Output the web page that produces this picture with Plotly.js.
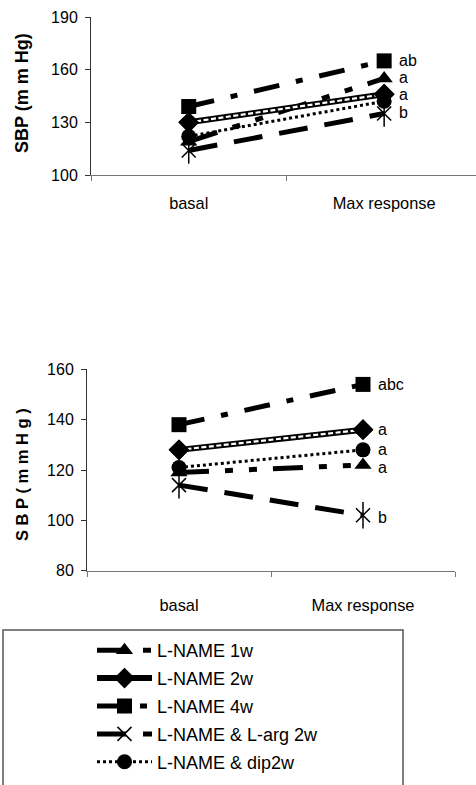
<!DOCTYPE html>
<html><head><meta charset="utf-8">
<script src="https://cdn.plot.ly/plotly-3.0.1.min.js"></script>
<style>html,body{margin:0;padding:0;background:#fff;}#chart{width:476px;height:785px;}</style>
</head><body><div id="chart"></div>
<script>
var categories = ['basal', 'Max response'];
var seriesNames = ['L-NAME 1w', 'L-NAME 2w', 'L-NAME 4w', 'L-NAME & L-arg 2w', 'L-NAME & dip2w'];
// top chart values
var top1w = [119, 155];
var top2w = [130, 146];
var top4w = [139, 165];
var topLarg = [114, 135];
var topDip = [122, 142];
// bottom chart values
var bot1w = [119, 122];
var bot2w = [128, 136];
var bot4w = [138, 154];
var botLarg = [114, 102];
var botDip = [121, 128];
// significance letters
var topLetters = ['ab', 'a', 'a', 'b'];
var topLetterY = [165, 155.5, 146, 135.5];
var botLetters = ['abc', 'a', 'a', 'a', 'b'];
var botLetterY = [154, 136, 128, 121, 101];
var topTicks = [100, 130, 160, 190];
var botTicks = [80, 100, 120, 140, 160];

var FONT = '"Liberation Sans", Arial, sans-serif';
var W = 476, H = 785;
function py(p){ return 1 - p / H; }
function px(p){ return p / W; }

var styles = [
  {dash: '30px,16px,8px,16px,8px,16px', width: 5, symbol: 'triangle-up', size: 15},
  {dash: 'solid', width: 6, symbol: 'diamond', size: 16},
  {dash: '26px,17px,7px,17px', width: 5, symbol: 'square', size: 15},
  {dash: '29px,17px', width: 5, symbol: 'x-thin-open', size: 14},
  {dash: '3px,3px', width: 3, symbol: 'circle', size: 15}
];

function addChart(traces, vals, xa, ya, showLegend) {
  vals.forEach(function(v, i){
    var s = styles[i];
    traces.push({
      type: 'scatter', mode: 'lines+markers', x: categories, y: v,
      name: seriesNames[i], xaxis: xa, yaxis: ya, showlegend: showLegend,
      legendgroup: 'g' + i,
      line: {color: '#000', width: s.width, dash: s.dash},
      marker: {symbol: s.symbol, size: s.size, color: '#000',
               line: {color: '#000', width: s.symbol.indexOf('open') >= 0 ? 1.5 : 0}},
      cliponaxis: false
    });
    if (i === 1) {
      traces.push({
        type: 'scatter', mode: 'lines', x: categories, y: v, xaxis: xa, yaxis: ya,
        showlegend: false, legendgroup: 'g' + i, hoverinfo: 'skip',
        line: {color: '#fff', width: 2.2, dash: '5px,2.5px'}
      });
      traces.push({
        type: 'scatter', mode: 'markers', x: categories, y: v, xaxis: xa, yaxis: ya,
        showlegend: false, legendgroup: 'g' + i, hoverinfo: 'skip',
        marker: {symbol: 'diamond', size: s.size, color: '#000'}, cliponaxis: false
      });
    }
    if (i === 3) {
      traces.push({
        type: 'scatter', mode: 'markers', x: categories, y: v, xaxis: xa, yaxis: ya,
        showlegend: false, legendgroup: 'g' + i, hoverinfo: 'skip',
        marker: {symbol: 'line-ns-open', size: 19, color: '#000', line: {color: '#000', width: 1.5}},
        cliponaxis: false
      });
    }
  });
}

var traces = [];
addChart(traces, [top1w, top2w, top4w, topLarg, topDip], 'x', 'y', false);
addChart(traces, [bot1w, bot2w, bot4w, botLarg, botDip], 'x2', 'y2', true);

var annotations = [];
topLetters.forEach(function(t, i){
  annotations.push({xref: 'x', yref: 'y', x: categories[1], y: topLetterY[i], text: t,
    showarrow: false, xanchor: 'left', yanchor: 'middle', xshift: 13,
    font: {family: FONT, size: 16, color: '#000'}});
});
botLetters.forEach(function(t, i){
  annotations.push({xref: 'x2', yref: 'y2', x: categories[1], y: botLetterY[i], text: t,
    showarrow: false, xanchor: 'left', yanchor: 'middle', xshift: 13,
    font: {family: FONT, size: 16, color: '#000'}});
});
annotations.push({xref: 'paper', yref: 'paper', x: px(22), y: py(93), text: '<b>SBP (m m Hg)</b>',
  textangle: -90, showarrow: false, xanchor: 'center', yanchor: 'middle',
  font: {family: FONT, size: 18, color: '#000'}});
annotations.push({xref: 'paper', yref: 'paper', x: px(22), y: py(475), text: '<b>S B P ( m m H g )</b>',
  textangle: -90, showarrow: false, xanchor: 'center', yanchor: 'middle',
  font: {family: FONT, size: 16.5, color: '#000'}});

function yax(range, ticks, dom, anchor) {
  return {domain: dom, range: range, tickvals: ticks, anchor: anchor, showgrid: false, zeroline: false,
    showline: true, linecolor: '#333', linewidth: 1, ticks: 'outside', ticklen: 5, tickcolor: '#333',
    tickfont: {family: FONT, size: 16, color: '#000'}, ticklabelstandoff: 4, automargin: false};
}
function xax(range, dom, anchor, standoff) {
  return {domain: dom, range: range, type: 'category', anchor: anchor, showgrid: false, zeroline: false,
    showline: true, linecolor: '#777', linewidth: 1.2, ticks: 'outside', tickson: 'boundaries', ticklen: 5,
    tickcolor: '#777', tickfont: {family: FONT, size: 16.4, color: '#000'}, ticklabelstandoff: standoff,
    automargin: false};
}

var layout = {
  width: W, height: H, margin: {l: 0, r: 0, t: 0, b: 0, pad: 0, autoexpand: false},
  paper_bgcolor: '#fff', plot_bgcolor: 'rgba(0,0,0,0)',
  xaxis: xax([-0.5, 1.47], [px(91), 1], 'y', 13),
  yaxis: yax([100, 190], topTicks, [py(175), py(17)], 'x'),
  xaxis2: xax([-0.5, 1.5], [px(87), px(455)], 'y2', 19),
  yaxis2: yax([80, 160], botTicks, [py(570.7), py(369.3)], 'x2'),
  showlegend: true,
  legend: {x: px(92), y: py(632), xanchor: 'left', yanchor: 'top', bgcolor: 'rgba(0,0,0,0)',
    borderwidth: 0, font: {family: FONT, size: 18, color: '#000'}, itemwidth: 55,
    traceorder: 'grouped', tracegroupgap: 1.5, itemclick: false},
  shapes: [{type: 'rect', xref: 'paper', yref: 'paper', x0: px(3), x1: px(403), y0: -0.1, y1: py(630),
    line: {color: '#555', width: 1.5}, fillcolor: 'rgba(0,0,0,0)'}],
  annotations: annotations
};

Plotly.newPlot('chart', traces, layout, {staticPlot: true, displayModeBar: false});
</script></body></html>
